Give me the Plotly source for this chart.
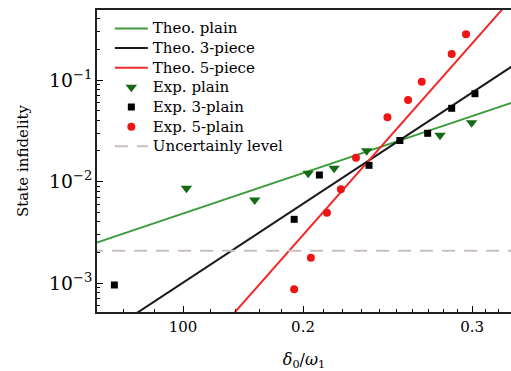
import plotly.graph_objects as go

# Theory lines (endpoints, straight in log-log)
theo_x_plain = [0.12, 0.34]
theo_y_plain = [2.38e-3, 0.0657]
theo_x_3 = [0.12, 0.34]
theo_y_3 = [2.52e-4, 0.1636]
theo_x_5 = [0.16, 0.34]
theo_y_5 = [2.72e-4, 0.874]

# Experimental points
exp_x_plain = [0.1512, 0.1781, 0.2025, 0.2155, 0.2330, 0.2778, 0.2997]
exp_y_plain = [8.57e-3, 6.58e-3, 0.01205, 0.01349, 0.02011, 0.02851, 0.03795]
exp_x_3 = [0.1272, 0.1958, 0.2080, 0.2343, 0.2523, 0.2697, 0.2857, 0.3021]
exp_y_3 = [9.56e-4, 4.24e-3, 0.01159, 0.01444, 0.02535, 0.02985, 0.05264, 0.07328]
exp_x_5 = [0.1958, 0.2038, 0.2118, 0.2190, 0.2271, 0.2449, 0.2573, 0.2659, 0.2857, 0.2957]
exp_y_5 = [8.67e-4, 1.775e-3, 4.93e-3, 8.38e-3, 0.01716, 0.04291, 0.06353, 0.09622, 0.1804, 0.2818]

unc_x = [0.12, 0.34]
unc_y = [2.08e-3, 2.08e-3]

x_tickvals = [0.15, 0.2, 0.3]
x_ticktext = ["100", "0.2", "0.3"]
x_minor = [0.13, 0.14, 0.16, 0.17, 0.18, 0.19, 0.21, 0.22, 0.23, 0.24, 0.25,
           0.26, 0.27, 0.28, 0.29, 0.31, 0.32]

legend_names = ["Theo. plain", "Theo. 3-piece", "Theo. 5-piece", "Exp. plain",
                "Exp. 3-plain", "Exp. 5-plain", "Uncertainly level"]

FONT = "DejaVu Serif"


def lab(s):
    return '<span style="font-size:15px">' + s + '</span>'


fig = go.Figure()
fig.add_trace(go.Scatter(x=theo_x_plain, y=theo_y_plain, mode="lines",
                         line=dict(color="#3c9c3c", width=2), name=lab(legend_names[0])))
fig.add_trace(go.Scatter(x=theo_x_3, y=theo_y_3, mode="lines",
                         line=dict(color="#1a1a1a", width=2), name=lab(legend_names[1])))
fig.add_trace(go.Scatter(x=theo_x_5, y=theo_y_5, mode="lines",
                         line=dict(color="#f02828", width=2), name=lab(legend_names[2])))
fig.add_trace(go.Scatter(x=exp_x_plain, y=exp_y_plain, mode="markers",
                         marker=dict(symbol="triangle-down", size=10, color="#156a15"),
                         name=lab(legend_names[3])))
fig.add_trace(go.Scatter(x=exp_x_3, y=exp_y_3, mode="markers",
                         marker=dict(symbol="square", size=7, color="black"),
                         name=lab(legend_names[4])))
fig.add_trace(go.Scatter(x=exp_x_5, y=exp_y_5, mode="markers",
                         marker=dict(symbol="circle", size=8, color="#ee1515"),
                         name=lab(legend_names[5])))
fig.add_trace(go.Scatter(x=unc_x, y=unc_y, mode="lines",
                         line=dict(color="#c9bfbf", width=2, dash="13px,9px"),
                         name=lab(legend_names[6])))

fig.update_layout(
    width=511, height=371, autosize=False,
    margin=dict(l=97, r=0, t=10, b=59),
    paper_bgcolor="white", plot_bgcolor="white",
    font=dict(family=FONT, size=15, color="black"),
    showlegend=True,
    legend=dict(x=0.031, y=0.988, xanchor="left", yanchor="top",
                bgcolor="rgba(255,255,255,0)", borderwidth=0,
                font=dict(family=FONT, size=12.8), itemwidth=33),
)
fig.update_xaxes(
    type="log", range=[-0.9136, -0.4823],
    tickmode="array", tickvals=x_tickvals, ticktext=x_ticktext,
    ticks="inside", ticklen=6, tickwidth=1, tickcolor="black",
    minor=dict(tickmode="array", tickvals=x_minor, ticks="inside", ticklen=3,
               tickwidth=1, tickcolor="black", showgrid=False),
    showline=True, linecolor="#222", linewidth=1.5, mirror=True,
    showgrid=False, zeroline=False,
    title=dict(text="<i>δ</i><sub>0</sub>/<i>ω</i><sub>1</sub>", standoff=19,
               font=dict(family=FONT, size=16)),
)
fig.update_yaxes(
    type="log", range=[-3.2857, -0.3103],
    dtick=1, exponentformat="power",
    ticks="inside", ticklen=6, tickwidth=1, tickcolor="black",
    minor=dict(ticks="inside", ticklen=3, tickwidth=1, tickcolor="black",
               dtick="D1", showgrid=False),
    showline=True, linecolor="#222", linewidth=1.5, mirror=False,
    showgrid=False, zeroline=False,
    title=dict(text="State infidelity", standoff=17,
               font=dict(family=FONT, size=15)),
)

fig.write_html("out.html")
